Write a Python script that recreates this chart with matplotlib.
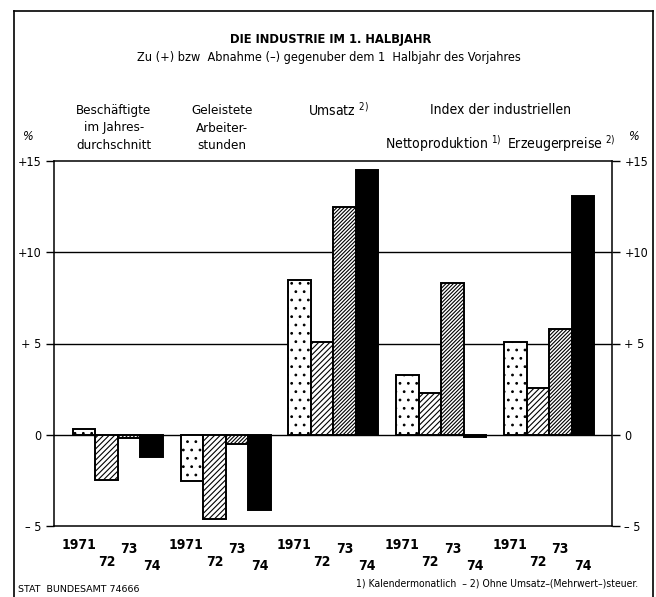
import matplotlib
matplotlib.use("Agg")
import matplotlib.pyplot as plt
from matplotlib.lines import Line2D
from matplotlib.transforms import blended_transform_factory

plt.rcParams['font.family'] = ['DejaVu Sans']
plt.rcParams['font.stretch'] = 'condensed'
plt.rcParams['hatch.linewidth'] = 0.8

# ---- data ----
groups = ["Beschäftigte", "Geleistete Arbeiterstunden", "Umsatz", "Nettoproduktion", "Erzeugerpreise"]
year_labels = ["1971", "72", "73", "74"]
v1971 = [0.3, -2.55, 8.5, 3.25, 5.1]
v1972 = [-2.5, -4.6, 5.1, 2.3, 2.55]
v1973 = [-0.2, -0.5, 12.5, 8.3, 5.8]
v1974 = [-1.2, -4.1, 14.5, -0.1, 13.1]
series = [v1971, v1972, v1973, v1974]
yticks = [15, 10, 5, 0, -5]
ytick_labels = ["+15", "+10", "+ 5", "0", "– 5"]

W, H = 656, 597
fig = plt.figure(figsize=(W / 100, H / 100), dpi=100)
fig.patch.set_facecolor('white')

def fx(px):
    return px / W

def fy(py):
    return 1 - py / H

ax_l, ax_r, ax_t, ax_b = 54, 612, 161, 526
ax = fig.add_axes([fx(ax_l), fy(ax_b), fx(ax_r) - fx(ax_l), fy(ax_t) - fy(ax_b)])

bar_w = 1.0
group_step = 4.79
first = 0.84
faces = ['white', 'white', 'white', 'black']
hatches = ['..', '//////', '/////////', None]
for i, vals in enumerate(series):
    xs = [first + g * group_step + i for g in range(len(groups))]
    ax.bar(xs, vals, width=bar_w, align='edge', facecolor=faces[i],
           edgecolor='black', linewidth=1.4, hatch=hatches[i], zorder=3)

ax.set_xlim(0, 24.8)
ax.set_ylim(-5, 15)
for yv in [10, 5, 0]:
    ax.axhline(yv, color='black', linewidth=1.0, zorder=2)
for s in ax.spines.values():
    s.set_linewidth(1.1)
ax.set_xticks([])
ax.set_yticks(yticks)
ax.set_yticklabels(ytick_labels)
ax.tick_params(axis='y', which='both', direction='out', length=6, width=1.0,
               left=True, right=True, labelleft=True, labelright=True,
               labelsize=9, pad=3)

# year labels under the bars
trans = blended_transform_factory(ax.transData, fig.transFigure)
year_y = [545, 562, 549, 566]
year_dx = [-0.25, 0, 0, 0]
for g in range(len(groups)):
    for i, lab in enumerate(year_labels):
        x = first + g * group_step + i + 0.5 + year_dx[i]
        fig.text(x, fy(year_y[i]), lab, transform=trans, ha='center', va='center',
                 fontsize=10, fontweight='bold')

# titles
fig.text(fx(331), fy(40), "DIE INDUSTRIE IM 1. HALBJAHR", ha='center', va='center',
         fontsize=9.3, fontweight='bold')
fig.text(fx(329), fy(57), "Zu (+) bzw  Abnahme (–) gegenuber dem 1  Halbjahr des Vorjahres",
         ha='center', va='center', fontsize=9.1)

hdr_fs = 10
fig.text(fx(114), fy(128), "Beschäftigte\nim Jahres-\ndurchschnitt", ha='center', va='center',
         fontsize=9.5, linespacing=1.45)
fig.text(fx(222), fy(128), "Geleistete\nArbeiter-\nstunden", ha='center', va='center',
         fontsize=9.5, linespacing=1.45)
fig.text(fx(338), fy(110), "Umsatz $^{2)}$", ha='center', va='center', fontsize=hdr_fs)
fig.text(fx(500), fy(110), "Index der industriellen", ha='center', va='center', fontsize=hdr_fs)
fig.text(fx(443), fy(144), "Nettoproduktion $^{1)}$", ha='center', va='center', fontsize=hdr_fs)
fig.text(fx(561), fy(144), "Erzeugerpreise $^{2)}$", ha='center', va='center', fontsize=hdr_fs)
fig.text(fx(28), fy(136), "%", ha='center', va='center', fontsize=9, style='italic')
fig.text(fx(634), fy(136), "%", ha='center', va='center', fontsize=9, style='italic')

# footnotes
fig.text(fx(18), fy(589), "STAT  BUNDESAMT 74666", ha='left', va='center', fontsize=6.8,
         fontstretch='normal')
fig.text(fx(638), fy(583), "1) Kalendermonatlich  – 2) Ohne Umsatz–(Mehrwert–)steuer.",
         ha='right', va='center', fontsize=7.5)

# outer border
border_kw = dict(color='black', linewidth=1.2, transform=fig.transFigure)
fig.add_artist(Line2D([fx(14), fx(14)], [fy(11), 0], **border_kw))
fig.add_artist(Line2D([fx(14), fx(653)], [fy(11), fy(11)], **border_kw))
fig.add_artist(Line2D([fx(653), fx(653)], [fy(11), 0], **border_kw))

fig.savefig("out.png", dpi=100)
